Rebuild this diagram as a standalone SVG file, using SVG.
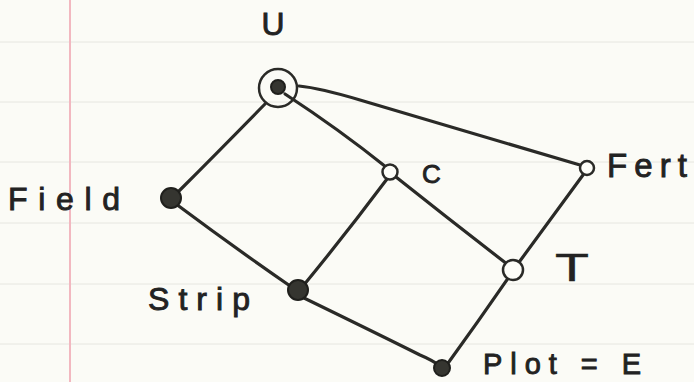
<svg xmlns="http://www.w3.org/2000/svg" width="694" height="382" viewBox="0 0 694 382">
<style>
.rule{stroke:#e6e6e0;stroke-width:1}
.margin{stroke:#f2b8c0;stroke-width:2}
.edge{fill:none;stroke:#2a2a27;stroke-width:3.2;stroke-linecap:round}
.full{fill:#353530;stroke:#1f1f1c;stroke-width:2}
.open{fill:#fdfdf8;stroke:#2a2a27;stroke-width:2.5}
.lbl{font-family:"Liberation Sans","DejaVu Sans",sans-serif;fill:#222;stroke:#222;stroke-width:0.9;font-size:32px}
</style>
<rect width="694" height="382" fill="#fbfbf6"/>
<g id="paper">
<line class="rule" x1="0" y1="42" x2="694" y2="42"/>
<line class="rule" x1="0" y1="102" x2="694" y2="102"/>
<line class="rule" x1="0" y1="162" x2="694" y2="162"/>
<line class="rule" x1="0" y1="223" x2="694" y2="223"/>
<line class="rule" x1="0" y1="284" x2="694" y2="284"/>
<line class="rule" x1="0" y1="344" x2="694" y2="344"/>
<line class="margin" x1="70" y1="0" x2="70" y2="382"/>
</g>
<g id="connectors">
<path class="edge" d="M265,104 Q220,150 178,192"/>
<path class="edge" d="M285,94 Q340,130 386,167"/>
<path class="edge" d="M299,86 Q320,88 360,100 Q460,130 580,165"/>
<path class="edge" d="M387,179 Q345,235 303,286"/>
<path class="edge" d="M396,177 Q450,220 507,264"/>
<path class="edge" d="M583,175 Q550,220 517,265"/>
<path class="edge" d="M176,204 Q235,248 293,288"/>
<path class="edge" d="M304,298 Q380,335 420,355 Q432,360 440,366"/>
<path class="edge" d="M509,277 Q478,322 446,366"/>
</g>
<g id="node-U">
<circle cx="278" cy="88" r="19" fill="none" stroke="#2a2a27" stroke-width="2.5"/>
<circle class="full" cx="278" cy="87" r="7"/>
<text class="lbl" x="273" y="35" text-anchor="middle" textLength="23" lengthAdjust="spacingAndGlyphs">U</text>
</g>
<g id="node-Field">
<circle class="full" cx="171" cy="198" r="10"/>
<text class="lbl" x="8" y="210" textLength="112" lengthAdjust="spacing">Field</text>
</g>
<g id="node-C">
<circle class="open" cx="390" cy="172" r="7.5"/>
<text class="lbl" x="422" y="183" style="font-size:26px">C</text>
</g>
<g id="node-Fert">
<circle class="open" cx="587" cy="168" r="7"/>
<text class="lbl" x="607" y="177" textLength="80" lengthAdjust="spacing" style="font-size:33px">Fert</text>
</g>
<g id="node-Strip">
<circle class="full" cx="298" cy="290" r="10"/>
<text class="lbl" x="148" y="310" textLength="102" lengthAdjust="spacing">Strip</text>
</g>
<g id="node-T">
<circle class="open" cx="513" cy="270" r="10"/>
<text class="lbl" x="555" y="281" textLength="34" lengthAdjust="spacingAndGlyphs" style="font-size:38px;stroke-width:0.4">T</text>
</g>
<g id="node-Plot">
<circle class="full" cx="442" cy="368" r="8"/>
<text class="lbl" x="483" y="374" textLength="158" lengthAdjust="spacing" style="font-size:29px">Plot = E</text>
</g>
</svg>
